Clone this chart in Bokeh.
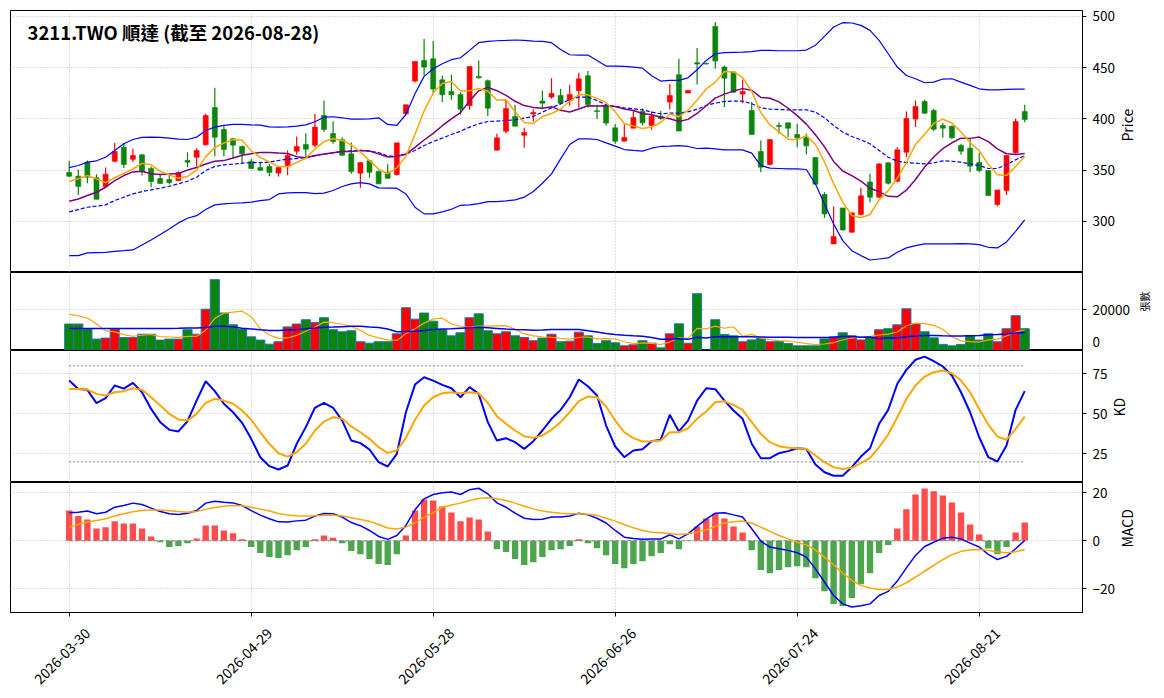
import math
import pandas as pd
from bokeh.plotting import figure
from bokeh.layouts import column
from bokeh.models import FixedTicker, Range1d, Label, ColumnDataSource, Grid
from bokeh.embed import file_html
from bokeh.resources import INLINE

# ---------------- data ----------------
title_text = "3211.TWO 順達 (截至 2026-08-28)"
holidays = ["2026-04-03", "2026-04-06", "2026-05-01", "2026-06-19"]
trade_dates = pd.bdate_range("2026-03-30", "2026-08-28", freq="C",
                             holidays=holidays).strftime("%Y-%m-%d").tolist()
tick_pos = [0, 20, 40, 60, 80, 100]
tick_labels = ["2026-03-30", "2026-04-29", "2026-05-28", "2026-06-26", "2026-07-24", "2026-08-21"]

open_ = [347.6, 344, 357.7, 342.4, 334, 358.6, 372.3, 360.6, 364.8, 351.5,
         341.7, 340.7, 339.7, 359.3, 362.5, 374.6, 411, 389.6, 380.5, 373,
         358.3, 352.4, 353.4, 347, 354.4, 368.4, 374.9, 374.3, 403.3, 385.7,
         379.5, 365.8, 346.9, 359, 348.5, 347.9, 345.6, 404.9, 436.8, 457,
         458.6, 438, 426.7, 423.8, 413, 441.4, 437.1, 369.4, 387.9, 402.3,
         384, 404.6, 417.3, 421.2, 422.8, 417.9, 427.4, 442, 407.8, 413,
         391.2, 378.2, 390.9, 407.2, 393.5, 402.6, 416.3, 443, 425.1, 454.7,
         454, 490.2, 450.5, 445.6, 424.1, 408.1, 368.1, 355.4, 393.5, 396.1,
         384.7, 382, 362.2, 326.1, 277.9, 313, 289.3, 306.5, 338.4, 323.5,
         357, 339.1, 367.4, 399.7, 416.9, 408.1, 393.5, 392.8, 374, 371.3,
         357.3, 349.5, 316.3, 330, 366.8, 407.2]
high = [359, 350.5, 359.3, 346, 352.4, 376.5, 376.2, 370.7, 365.8, 353.4,
        346.3, 345.6, 348.9, 367.4, 371.3, 404.9, 430.3, 392.8, 381.4, 374,
        361, 357.7, 356, 353.4, 369, 382.7, 386, 404.6, 417.9, 397.7,
        382, 376.9, 357.3, 359.6, 349.5, 356, 377.2, 413.7, 456, 478,
        475.9, 442.3, 443, 426, 451, 457, 438.4, 385.3, 417.9, 413.7,
        391.2, 409.4, 427.7, 439.7, 429.3, 433.2, 445, 446.6, 413.7, 413,
        395, 394.8, 408, 410.4, 407.2, 407.5, 434.2, 458.6, 427.9, 469,
        455, 494.5, 452.1, 446.6, 438.4, 416.3, 378.8, 379.8, 396.7, 396.1,
        395.1, 385.3, 362.2, 328.3, 314.3, 313, 308.2, 332.6, 346.3, 356.7,
        357.7, 372.3, 407.2, 417.9, 418.6, 409.8, 396.1, 393.5, 375.6, 380.5,
        366.8, 349.5, 330.6, 364.2, 400, 413.7]
low = [343, 325.7, 337, 321.5, 333, 357.7, 352.1, 357.7, 344.6, 333.2,
       336.5, 335.8, 339, 352.8, 353.8, 374, 363.5, 363.2, 361.6, 356.7,
       351.1, 348.9, 344, 343.7, 345, 365.2, 362.5, 372.3, 387, 375.6,
       363.9, 346.3, 332.6, 342.4, 336.5, 341.4, 344.6, 404.2, 435.5, 442.3,
       424.4, 416.3, 418.6, 403.9, 408.8, 439, 402.6, 369.4, 386, 392.8,
       371.7, 397.4, 409.4, 419.5, 413.7, 413, 410.7, 411, 399.7, 393.5,
       375.6, 378.2, 390.9, 393.5, 389.3, 399, 409.1, 388, 425.1, 433.5,
       453, 448.9, 411.4, 425.1, 415.3, 384.7, 347.9, 354.4, 385.3, 382,
       372.3, 365.2, 336.2, 303.3, 277.9, 290.9, 289.3, 305.9, 318.6, 322.8,
       335.8, 338.1, 362.5, 391.9, 404.9, 388, 381.4, 380.5, 364.8, 347.9,
       347.9, 325.1, 314.7, 325.7, 365.8, 396.7]
close = [344, 334, 343, 321.5, 346, 368, 355.4, 364.2, 348.9, 338.8,
         336.8, 337.8, 347.6, 357.7, 369, 403.3, 382, 370, 374.3, 365.8,
         351.5, 349.8, 347.6, 352.4, 364.2, 373, 370.4, 391.9, 389.6, 377.9,
         364.5, 348.5, 357.3, 347.9, 336.5, 342, 376.5, 413.7, 456, 450.5,
         429, 423.5, 423.5, 409.4, 451, 440, 410.4, 381.4, 410.1, 392.8,
         386.6, 406.2, 415.3, 424.8, 415.3, 423.8, 439, 414, 407.2, 395.8,
         378.2, 381.8, 401.3, 396.1, 402.6, 400.3, 422.8, 388, 427.7, 453.4,
         453.5, 456.4, 439.7, 426, 426.7, 384.7, 352.8, 379.8, 392.5, 390.9,
         381.4, 373.6, 336.2, 307.2, 285.1, 291.5, 308.2, 324.8, 323.5, 356,
         337.1, 369.7, 400.3, 412, 405.5, 389.9, 390.9, 381.4, 368.4, 353.8,
         349.5, 325.1, 330.6, 364.2, 397.4, 399.3]
ma5 = [339.1, 341.4, 344.6, 341.4, 337.7, 342.5, 346.8, 351.0, 356.5, 355.1,
       348.8, 345.3, 342.0, 343.7, 349.8, 363.1, 371.9, 376.4, 379.7, 379.1,
       368.7, 362.3, 357.8, 353.4, 353.1, 357.4, 361.5, 370.4, 377.8, 380.6,
       378.9, 374.5, 367.6, 359.2, 350.9, 346.4, 352.0, 363.3, 384.9, 407.7,
       425.1, 434.5, 436.5, 427.2, 427.3, 429.5, 426.9, 418.4, 418.6, 406.9,
       396.3, 395.4, 402.2, 405.1, 409.6, 417.1, 423.6, 423.4, 419.9, 416.0,
       406.8, 395.4, 392.9, 390.6, 392.0, 396.4, 404.6, 402.0, 408.3, 418.4,
       429.1, 435.8, 446.1, 445.8, 440.5, 426.7, 406.0, 394.0, 387.3, 380.1,
       379.5, 383.6, 374.9, 357.9, 336.7, 318.7, 305.6, 303.4, 306.6, 320.8,
       329.9, 342.2, 357.3, 375.0, 384.9, 395.5, 399.7, 395.9, 387.2, 376.9,
       368.8, 355.6, 345.5, 344.6, 353.4, 363.3]
ma10 = [319.6, 321.8, 325.1, 328.3, 333.2, 339.7, 344.6, 348.2, 348.9, 346.4,
        345.65, 346.05, 346.5, 350.1, 352.45, 355.95, 358.6, 359.2, 361.7, 364.45,
        365.9, 367.1, 367.1, 366.55, 366.1, 363.05, 361.9, 364.1, 365.6, 366.85,
        368.15, 368.0, 369.0, 368.5, 365.75, 362.65, 363.25, 365.45, 372.05, 379.3,
        385.75, 393.25, 399.9, 406.05, 417.5, 427.3, 430.7, 427.45, 422.9, 417.1,
        412.9, 411.15, 410.3, 411.85, 408.25, 406.7, 409.5, 412.8, 412.5, 412.8,
        411.95, 409.5, 408.15, 405.25, 404.0, 401.6, 400.0, 397.45, 399.45, 405.2,
        412.75, 420.2, 424.05, 427.05, 429.45, 427.9, 420.9, 420.05, 416.55, 410.3,
        403.1, 394.8, 384.45, 372.6, 358.4, 349.1, 344.6, 339.15, 332.25, 328.75,
        324.3, 323.9, 330.35, 340.8, 352.85, 362.7, 370.95, 376.6, 381.1, 380.9,
        382.15, 377.65, 370.7, 365.9, 365.15, 366.05]
bb_mid = [309.1, 311.4, 313.7, 314.7, 316, 320.2, 323.5, 326.7, 329, 330.6,
          332.3, 334.2, 336.5, 339.1, 343, 349.5, 353.4, 355.1, 355.7, 356.7,
          357.3, 357.3, 357.7, 359.3, 360.6, 361.2, 362.2, 363.8, 365.5, 366.8,
          368.1, 368.7, 369.1, 368.4, 367.1, 363.5, 363.5, 365.8, 369.1, 373.9,
          377.9, 381.1, 384.7, 387.9, 391.9, 395.1, 397.4, 397.7, 398.4, 399,
          400.7, 402.3, 406.5, 410.7, 414.7, 418.6, 421.2, 421.2, 417.9, 413.7,
          412.1, 410.7, 409.8, 408.8, 406.5, 404.9, 405.5, 405.5, 406.8, 409.4,
          413, 415.3, 416.9, 417.3, 417.3, 414.7, 410.7, 409.4, 409.1, 408.8,
          408.8, 408.8, 406.5, 401, 393.5, 387, 382.7, 379.5, 375.6, 369.1,
          362.5, 358.6, 357.3, 356.7, 356, 357, 359, 358.6, 357.7, 356,
          354.4, 351.5, 351.5, 355.1, 359.9, 364.2]
bb_upper = [352.4, 354.4, 357.7, 359, 362.5, 369, 375.6, 379.8, 381.8, 382.1,
            381.8, 381.1, 380.1, 379.8, 382.1, 388.6, 391.9, 393.5, 394.5, 394.5,
            394.1, 393.8, 392.2, 391.9, 392.2, 392.8, 394.1, 397.1, 401.6, 402,
            401, 399.7, 399.7, 400, 401, 394.5, 393.5, 404.2, 424.4, 441.4,
            448.9, 453.7, 457.7, 459.6, 466.8, 474.3, 475.6, 476.2, 476.5, 476.9,
            476.5, 475.9, 475.6, 474.3, 467.7, 462.5, 462.2, 462.2, 457, 451.5,
            451.5, 451.1, 450.5, 449.5, 442, 436.8, 437.5, 437.5, 440, 447.9,
            457, 463.5, 464.5, 464.8, 465.1, 465.5, 466.8, 466.8, 466.4, 466.4,
            466.4, 467.1, 471.7, 480.5, 489.6, 493.8, 493.5, 491.2, 486.3, 476.5,
            463.5, 450.5, 442.3, 439.1, 435.2, 435.8, 438.8, 439.1, 435.8, 432.6,
            429.3, 428.3, 428.3, 428.7, 429, 429]
bb_lower = [266.5, 266.5, 269.1, 269.4, 269.7, 270.7, 271.3, 272, 276.9, 281.8,
            287, 292.5, 298.4, 302.9, 305.5, 311.4, 316, 316.9, 317.6, 317.9,
            318.6, 320.2, 321.2, 326.7, 327.7, 328, 328, 327, 327.4, 330,
            333.9, 336.5, 337.8, 336.5, 332.6, 332.3, 332.3, 326.7, 313.7, 307.2,
            307.2, 309.1, 311.7, 315.6, 316, 317.3, 319.2, 319.2, 319.9, 320.9,
            323.5, 329, 337.1, 346.3, 360.9, 374.9, 380.5, 380.5, 379.8, 376.5,
            373.3, 370, 369.1, 368.4, 371.3, 373, 373.3, 373.9, 373, 371,
            371.3, 370.7, 369.7, 369.7, 369.7, 366.5, 354.4, 351.8, 351.5, 351.1,
            351.1, 350.5, 336.5, 316.9, 297.4, 281.1, 271.3, 266.5, 262.2, 263.2,
            264.2, 269.7, 274, 276.2, 277.9, 277.9, 277.9, 277.9, 278.2, 277.9,
            277.2, 274.6, 274, 279.8, 290.2, 301.3]
volume = [13000, 13000, 10500, 5600, 6100, 10500, 6400, 6400, 8000, 8000,
          5100, 5600, 5600, 10200, 8000, 20300, 34800, 18400, 12600, 10500,
          6700, 5100, 3100, 4300, 11600, 13000, 15100, 13800, 16100, 10200,
          9200, 9700, 4300, 3600, 4300, 4300, 8200, 21000, 15400, 18400,
          14400, 10200, 7200, 8700, 16100, 18000, 9700, 8200, 9200, 7200,
          6400, 4800, 6100, 8000, 4300, 4600, 9000, 7200, 3400, 4800,
          3800, 2300, 2800, 4800, 3600, 1300, 8200, 13100, 3600, 27900,
          200, 15100, 7900, 7200, 4300, 5200, 5900, 4300, 4400, 3400,
          2300, 2300, 2300, 5700, 6700, 8700, 7200, 5200, 6700, 10200,
          10700, 12600, 20500, 13100, 9200, 6200, 3000, 2300, 3000, 7400,
          5100, 8200, 4300, 10700, 17100, 10700]
vol_ma5 = [17700, 17060, 15900, 12960, 9640, 9140, 7820, 7000, 7480, 7860,
           6780, 6620, 6460, 6900, 6900, 9940, 15780, 18340, 18820, 19320,
           16600, 10660, 7600, 5940, 6160, 7420, 9420, 11560, 13920, 13640,
           12880, 11800, 9900, 7400, 6220, 5240, 4940, 8280, 10640, 13460,
           15480, 15880, 13120, 11780, 11320, 12040, 11940, 12140, 12240, 10460,
           8140, 7160, 6740, 6500, 5920, 5560, 6400, 6620, 5700, 5800,
           5640, 4300, 3420, 3700, 3460, 2960, 4140, 6200, 5960, 10820,
           10600, 11980, 10940, 11660, 6940, 7940, 6100, 5380, 4820, 4640,
           4060, 3340, 2940, 3200, 3860, 5140, 6120, 6700, 6900, 7600,
           8000, 9080, 12140, 13420, 13220, 12320, 10400, 6760, 4740, 4380,
           4160, 5200, 5600, 7140, 9080, 10200]
vol_ma20 = [10800, 10800, 10800, 10800, 10800, 10800, 10800, 10800, 10800, 10800,
            10800, 10800, 10900, 11100, 11100, 11300, 11900, 11900, 11600, 10930,
            10615, 10220, 9850, 9785, 10060, 10185, 10620, 10990, 11395, 11505,
            11710, 11915, 11850, 11520, 11335, 10535, 9205, 9335, 9475, 9870,
            10255, 10510, 10715, 10935, 11160, 11410, 11140, 10860, 10515, 10365,
            10225, 9980, 10070, 10290, 10290, 10305, 10345, 9655, 9055, 8375,
            7845, 7450, 7230, 7035, 6410, 5575, 5500, 5745, 5465, 6500,
            6190, 6705, 6795, 6755, 6755, 6785, 6630, 6485, 6535, 6465,
            6390, 6390, 6365, 6410, 6565, 6935, 6885, 6490, 6645, 5760,
            6285, 6160, 6790, 7085, 7330, 7380, 7235, 7135, 7065, 7265,
            7405, 7700, 7800, 8050, 8570, 8670]
k_line = [70.8, 65.6, 65, 56.7, 59.8, 67.7, 65.8, 69.4, 63.5, 53.1,
          44.8, 40, 39, 45.4, 58.3, 70.4, 64.2, 56.3, 51, 44.4,
          34.4, 22.9, 17.3, 15.2, 17.7, 31.3, 41.7, 53.8, 56.9, 53.8,
          45.8, 33.3, 31.7, 27.7, 19.8, 17.1, 25, 51, 68.3, 72.9,
          70.8, 68.1, 66, 60.4, 66.7, 62.5, 44.8, 33.3, 34.8, 32.3,
          28.1, 32.9, 39.6, 46.9, 52.5, 60.4, 71.5, 67.3, 61.5, 42.7,
          29.6, 22.9, 27.1, 27.9, 32.9, 33.8, 49.4, 39, 45.8, 58.3,
          66, 65.4, 58.3, 52.1, 46.9, 31.3, 22.3, 22.3, 25.4, 26.7,
          28.5, 28.1, 18.3, 13.5, 11.3, 11.3, 16.7, 23.3, 28.5, 43.8,
          52.5, 68.8, 77.5, 83.8, 85.8, 82.9, 79.6, 74, 63.5, 51,
          35.4, 22.9, 20.2, 30.2, 52.5, 64.2]
d_line = [65.6, 65.6, 65.2, 62.5, 61.5, 63.5, 64.2, 66, 65, 60.4,
          55.2, 50, 46.5, 45.8, 50, 56.9, 59.4, 58.3, 56.3, 52.1,
          46.3, 38.5, 31.3, 25.4, 23.3, 26, 31.3, 39.6, 45.2, 47.9,
          46.9, 42.1, 38.5, 34.4, 29.2, 25.6, 27.1, 35, 46.3, 55.2,
          60.4, 62.9, 63.5, 62.9, 63.5, 62.9, 56.9, 48.5, 43.8, 39.6,
          36, 35, 36.5, 40, 44.8, 51, 57.9, 60.8, 60.4, 54.6,
          45.8, 38.5, 34.8, 32.7, 32.9, 33.3, 38.5, 38.5, 41, 46.9,
          51.5, 57.3, 57.9, 55.6, 52.5, 44.8, 37.5, 32.3, 29.8, 28.8,
          28.5, 28.1, 24, 19.8, 16.7, 15.6, 16.3, 19.2, 22.5, 29.2,
          37.1, 47.9, 59.4, 67.7, 73.3, 76, 77.1, 75.4, 70.8, 63.5,
          53.1, 43.3, 35.8, 33.8, 40.6, 48.3]
kd_levels = [20, 80]
dif = [11.7, 11.9, 12.4, 11.3, 11.9, 14, 14.7, 15.7, 15.1, 13.6,
       12.2, 11.3, 11, 11.5, 12.6, 15.7, 16.5, 16.1, 15.8, 14.7,
       12.6, 10.7, 9.2, 7.9, 7.8, 8.3, 8.6, 10.3, 11.4, 11.3,
       9.9, 7.6, 6.3, 4.3, 1.8, 0.6, 2.2, 6.4, 12.9, 17.5,
       19.3, 20, 20.3, 19.3, 21.3, 21.9, 19.6, 15.8, 14, 11.5,
       9.4, 8.9, 9, 9.9, 9.9, 10.3, 11.5, 10.8, 9.4, 7.4,
       4.3, 1.5, 1, 0.6, 0.7, 0.7, 2.5, 0.8, 2.9, 6,
       9, 11.5, 11.7, 10.8, 9.9, 5, -0.1, -2.6, -3.3, -4,
       -5, -6.8, -11.7, -17.2, -22.8, -26.3, -27.6, -27.1, -26.3, -22.8,
       -21.1, -16.8, -11.3, -6.1, -2.4, -0.6, 1.1, 1.5, 0.8, -1,
       -2.6, -5.7, -7.8, -6.5, -3.3, 0.1]
dea = [5.7, 6.8, 7.8, 8.5, 9.2, 10.3, 11.3, 12.1, 12.6, 12.8,
       12.8, 12.5, 12.2, 11.9, 12.2, 13.1, 13.9, 14.4, 14.7, 14.6,
       14, 13.2, 12.4, 11.4, 10.7, 10.4, 10.3, 10.4, 10.6, 10.7,
       10.3, 9.6, 8.9, 8.1, 6.8, 5.3, 4.9, 5.7, 7.5, 9.8,
       11.7, 14, 14.9, 15.7, 16.8, 17.6, 17.9, 17.5, 16.8, 15.7,
       14.4, 13.3, 12.4, 11.9, 11.5, 11.3, 11.3, 11.1, 10.6, 9.4,
       8.2, 6.8, 5.4, 4.3, 3.6, 3.3, 2.9, 2.6, 2.9, 3.6,
       4.6, 6, 7.4, 7.9, 8.2, 7.4, 5.7, 3.9, 2.2, 0.8,
       -0.6, -1.7, -3.8, -6.8, -10, -13.5, -16.5, -18.6, -19.7, -20.3,
       -20.3, -19.3, -17.5, -15.1, -12.6, -10.3, -7.9, -5.8, -4.4, -3.8,
       -3.6, -4, -4.7, -5, -4.6, -3.6]
macd_hist = [12.6, 10.3, 8.9, 5.1, 5.6, 8.1, 7.2, 7.2, 5.1, 1.8,
             -0.6, -2.6, -2.2, -1, 1, 6.4, 6.4, 4.3, 3.1, 0.6,
             -2.6, -5.1, -6.8, -7.2, -6, -3.9, -2.6, 0.6, 2.2, 1.3,
             -1, -4.3, -5.6, -7.6, -9.7, -10.1, -5.6, 2.2, 12.6, 17.2,
             16.8, 14.3, 11.8, 8.1, 9.7, 8.9, 3.9, -3.5, -4.7, -7.6,
             -10.1, -8.9, -6.8, -3.9, -3.5, -2.2, 0.6, -1, -3.1, -6,
             -9.7, -11.4, -9.7, -8.5, -6.4, -5.1, -1.4, -3.5, 0.1, 6,
             9.3, 11.3, 9.3, 6, 3.5, -3.9, -12.2, -13.5, -12.2, -11,
             -10.6, -11, -15.6, -21, -26.4, -27.2, -23.9, -18.1, -13.5, -5.1,
             -1.8, 5.1, 13.1, 19.3, 21.8, 20.6, 18.9, 16, 11.8, 6.8,
             2.6, -3.2, -5.6, -2.6, 3.5, 7.6]

n = len(close)
for arr in (open_, high, low, ma5, ma10, bb_mid, bb_upper, bb_lower, volume,
            vol_ma5, vol_ma20, k_line, d_line, dif, dea, macd_hist, trade_dates):
    assert len(arr) == n, len(arr)
x = list(range(n))

# ---------------- style / layout ----------------
FONT = "Noto Sans CJK TC"
RED, GREEN = "#ff0000", "#0b850b"
HRED, HGREEN = "#ff4d4d", "#4da64d"
EDGE = "#1f77b4"

BL = 10
FRAME_W = 1072
BR = 82
W = BL + FRAME_W + BR
X0, X1 = -6.45, 111.35
PXB = FRAME_W / (X1 - X0)

PRICE_YR = (250.0, 505.7)
VOL_YR = (0.0, 38300.0)
KD_YR = (7.1, 89.6)
MACD_YR = (-29.9, 24.3)

XR = Range1d(X0, X1)


def make_fig(frame_h, yr, yticks, label, label_size="14px", label_standoff=9, top=0,
             bottom=0, xaxis=False, overrides=None):
    p = figure(width=W, height=frame_h + top + bottom, x_range=XR,
               y_range=Range1d(*yr), output_backend="svg", toolbar_location=None,
               x_axis_location="below" if xaxis else None, y_axis_location="right",
               min_border_left=BL, min_border_right=BR,
               min_border_top=top, min_border_bottom=bottom)
    p.outline_line_color = "black"
    p.outline_line_width = 1
    p.outline_line_alpha = 1
    p.background_fill_color = "white"
    p.border_fill_color = "white"
    if len(p.xgrid) == 0:
        p.add_layout(Grid(dimension=0, ticker=FixedTicker(ticks=tick_pos)), "center")
    else:
        p.xgrid[0].ticker = FixedTicker(ticks=tick_pos)
    ya = p.yaxis[0]
    ya.ticker = FixedTicker(ticks=yticks)
    p.ygrid[0].ticker = FixedTicker(ticks=yticks)
    for g in list(p.xgrid) + list(p.ygrid):
        g.grid_line_color = "#b0b0b0"
        g.grid_line_dash = "1 2"
        g.grid_line_width = 0.8
    axes = [ya] + (list(p.xaxis) if xaxis else [])
    for ax in axes:
        ax.major_label_text_font = FONT
        ax.major_label_text_font_size = "13.5px"
        ax.major_label_text_color = "black"
        ax.major_tick_out = 4
        ax.major_tick_in = 0
        ax.minor_tick_out = 0
        ax.minor_tick_in = 0
        ax.axis_line_color = "black"
        ax.major_tick_line_color = "black"
        ax.minor_tick_line_color = "black"
        ax.major_label_standoff = 6
    ya.axis_label = label
    ya.axis_label_text_font = FONT
    ya.axis_label_text_font_size = label_size
    ya.axis_label_text_font_style = "normal"
    ya.axis_label_text_color = "black"
    ya.axis_label_text_align = "center"
    ya.axis_label_standoff = label_standoff
    if "axis_label_orientation" in type(ya).properties():
        ya.axis_label_orientation = math.pi / 2   # read bottom-to-top, as in the reference
    if overrides:
        ya.major_label_overrides = overrides
    return p


# ---- price panel ----
p1 = make_fig(262, PRICE_YR, [300, 350, 400, 450, 500], "Price", top=10)
cols = [RED if c >= o else GREEN for o, c in zip(open_, close)]
src = ColumnDataSource(dict(x=x, o=open_, c=close, h=high, l=low,
                            top=[max(a, b) for a, b in zip(open_, close)],
                            bot=[min(a, b) for a, b in zip(open_, close)], col=cols))
p1.segment(x0="x", y0="l", x1="x", y1="h", line_color="col", line_width=1.2, source=src)
p1.vbar(x="x", width=0.55, top="top", bottom="bot", fill_color="col",
        line_color="col", line_width=0.6, source=src)
p1.line(x, bb_upper, line_color="blue", line_width=1.2)
p1.line(x, bb_lower, line_color="blue", line_width=1.2)
p1.line(x, bb_mid, line_color="blue", line_width=1.2, line_dash="4 2")
p1.line(x, ma10, line_color="purple", line_width=1.5)
p1.line(x, ma5, line_color="orange", line_width=1.5)
p1.add_layout(Label(x=X0 + 17 / PXB,
                    y=PRICE_YR[1] - 21 * (PRICE_YR[1] - PRICE_YR[0]) / 262,
                    text=title_text, text_font=FONT, text_font_size="18.5px",
                    text_font_style="bold", text_baseline="middle", text_align="left",
                    text_color="black"))

# ---- volume panel ----
VOL_ZERO_LABEL_AT = 4000   # "0" label lifted a few px so it is not cut by the canvas edge
p2 = make_fig(78, VOL_YR, [VOL_ZERO_LABEL_AT, 20000], "張數", label_size="10px",
              label_standoff=12, overrides={VOL_ZERO_LABEL_AT: "0", 20000: "20000"})
ya2 = p2.yaxis[0]
ya2.ticker = FixedTicker(ticks=[VOL_ZERO_LABEL_AT, 20000], minor_ticks=[0, 20000])
ya2.major_tick_out = 0
ya2.minor_tick_out = 4
p2.ygrid[0].ticker = FixedTicker(ticks=[20000])
vsrc = ColumnDataSource(dict(x=x, v=volume, col=cols))
p2.vbar(x="x", width=1.0, top="v", bottom=0, fill_color="col", line_color=EDGE,
        line_width=1, source=vsrc)
p2.line(x, vol_ma5, line_color="orange", line_width=1.2)
p2.line(x, vol_ma20, line_color="blue", line_width=1.5)

# ---- KD panel ----
p3 = make_fig(132, KD_YR, [25, 50, 75], "KD")
for lv in kd_levels:
    p3.line([x[0], x[-1]], [lv, lv], line_color="#808080", line_width=1, line_dash="2 2")
p3.line(x, k_line, line_color="blue", line_width=2)
p3.line(x, d_line, line_color="orange", line_width=2)

# ---- MACD panel ----
p4 = make_fig(130, MACD_YR, [-20, 0, 20], "MACD", bottom=80, xaxis=True,
              overrides={-20: "\u221220", 0: "0", 20: "20"})
LABEL_SHIFT = 2.0  # rotated labels are anchored at their end; shift so they centre on the tick
shifted = [round(t + LABEL_SHIFT, 2) for t in tick_pos]
xa = p4.xaxis[0]
xa.ticker = FixedTicker(ticks=shifted, minor_ticks=tick_pos)
xa.major_label_overrides = {s: lbl for s, lbl in zip(shifted, tick_labels)}
xa.major_label_orientation = math.pi / 4
xa.major_label_text_font_size = "14px"
xa.major_tick_out = 0
xa.minor_tick_out = 4
xa.major_label_standoff = 14
hcols = [HRED if h >= 0 else HGREEN for h in macd_hist]
hsrc = ColumnDataSource(dict(x=x, h=macd_hist, col=hcols))
p4.vbar(x="x", width=0.7, top="h", bottom=0, fill_color="col", line_color=None, source=hsrc)
p4.line([x[0], x[-1]], [0, 0], line_color="#808080", line_width=1, line_dash="4 2")
p4.line(x, dif, line_color="blue", line_width=1.5)
p4.line(x, dea, line_color="orange", line_width=1.5)

layout = column(p1, p2, p3, p4, spacing=0)
open("out.html", "w").write(file_html(layout, INLINE))
